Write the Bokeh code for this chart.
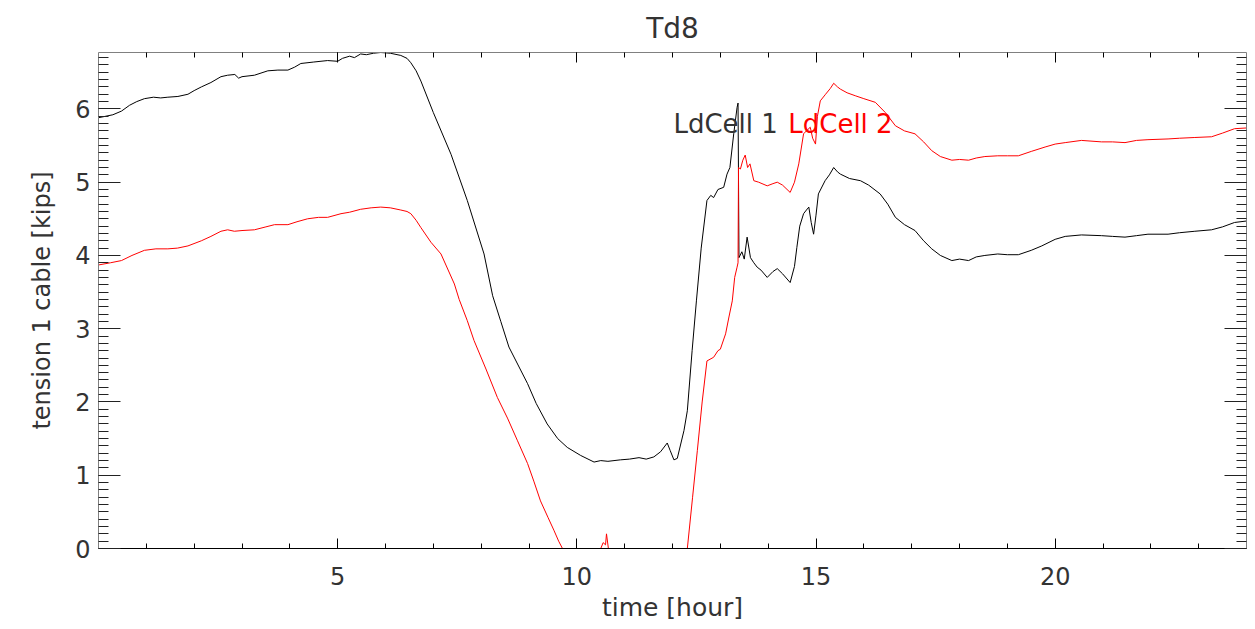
from bokeh.plotting import figure
from bokeh.models import LinearAxis, FixedTicker, Range1d, Label
from bokeh.embed import file_html
from bokeh.resources import INLINE

# ---------------- data ----------------
time_cell1 = [0.00, 0.15, 0.30, 0.48, 0.65, 0.80, 0.96, 1.15, 1.30, 1.45, 1.66, 1.87, 2.00, 2.15, 2.35,
              2.56, 2.70, 2.85, 2.93, 3.00, 3.26, 3.54, 3.75, 3.96, 4.10, 4.23, 4.50, 4.79, 5.00, 5.10,
              5.25, 5.35, 5.48, 5.60, 5.75, 5.90, 6.10, 6.32, 6.45, 6.53, 6.64, 6.74, 7.00, 7.37, 7.71,
              8.06, 8.24, 8.41, 8.58, 8.97, 9.15, 9.38, 9.60, 9.80, 10.08, 10.36, 10.50, 10.65, 10.91,
              11.10, 11.30, 11.45, 11.61, 11.75, 11.89, 11.95, 12.03, 12.10, 12.24, 12.31, 12.41, 12.50,
              12.60, 12.72, 12.80, 12.86, 12.95, 13.07, 13.14, 13.20, 13.28, 13.35, 13.37, 13.39, 13.45,
              13.50, 13.56, 13.63, 13.70, 13.77, 13.85, 13.98, 14.10, 14.19, 14.30, 14.46, 14.55, 14.60,
              14.66, 14.74, 14.80, 14.85, 14.90, 14.95, 15.00, 15.05, 15.19, 15.28, 15.37, 15.45, 15.51,
              15.70, 15.93, 16.10, 16.34, 16.50, 16.66, 16.85, 17.07, 17.25, 17.42, 17.60, 17.84, 18.00,
              18.19, 18.35, 18.53, 18.80, 19.00, 19.23, 19.50, 19.72, 20.00, 20.21, 20.55, 20.97, 21.20,
              21.46, 21.70, 21.94, 22.36, 22.60, 22.92, 23.27, 23.50, 23.75, 24.00]
tension_cell1 = [5.88, 5.90, 5.92, 5.97, 6.05, 6.10, 6.14, 6.16, 6.15, 6.16, 6.17, 6.20, 6.25, 6.30, 6.36,
                 6.44, 6.46, 6.47, 6.42, 6.44, 6.46, 6.52, 6.53, 6.53, 6.57, 6.62, 6.64, 6.66, 6.65, 6.69,
                 6.72, 6.70, 6.75, 6.74, 6.76, 6.77, 6.76, 6.73, 6.69, 6.63, 6.52, 6.38, 5.95, 5.38, 4.75,
                 4.02, 3.45, 3.10, 2.75, 2.25, 1.98, 1.70, 1.50, 1.38, 1.27, 1.18, 1.20, 1.19, 1.21,
                 1.22, 1.24, 1.22, 1.25, 1.32, 1.44, 1.34, 1.21, 1.23, 1.61, 1.88, 2.70, 3.38,
                 4.10, 4.75, 4.82, 4.79, 4.90, 4.93, 5.11, 5.20, 5.66, 6.02, 6.08, 3.97, 4.05,
                 3.95, 4.25, 3.97, 3.90, 3.84, 3.80, 3.70, 3.78, 3.82, 3.75, 3.63, 3.85, 4.11,
                 4.40, 4.57, 4.62, 4.66, 4.45, 4.29, 4.55, 4.84, 5.02, 5.10, 5.20, 5.14, 5.11,
                 5.05, 5.02, 4.96, 4.84, 4.70, 4.52, 4.42, 4.34, 4.20, 4.09, 4.00, 3.93, 3.95,
                 3.93, 3.98, 4.00, 4.02, 4.01, 4.01, 4.07, 4.13, 4.22, 4.26, 4.28, 4.27, 4.26,
                 4.25, 4.27, 4.29, 4.29, 4.31, 4.33, 4.35, 4.39, 4.45, 4.47]

time_cell2 = [0.00, 0.25, 0.48, 0.70, 0.96, 1.20, 1.45, 1.65, 1.87, 2.15, 2.35, 2.56, 2.70, 2.84, 3.00,
              3.26, 3.50, 3.68, 3.96, 4.15, 4.37, 4.60, 4.79, 5.07, 5.25, 5.48, 5.70, 5.90, 6.10, 6.32,
              6.45, 6.53, 6.64, 6.74, 6.95, 7.16, 7.44, 7.54, 7.71, 7.85, 8.10, 8.34, 8.55, 8.76, 8.97,
              9.10, 9.24, 9.40, 9.52, 9.62, 9.70, 10.50, 10.55, 10.60, 10.62, 10.66, 12.31, 12.42, 12.52,
              12.62, 12.72, 12.86, 12.95, 13.00, 13.11, 13.18, 13.25, 13.30, 13.35, 13.37, 13.38, 13.42,
              13.47, 13.52, 13.57, 13.62, 13.70, 13.80, 13.98, 14.10, 14.19, 14.30, 14.46, 14.55, 14.64,
              14.74, 14.80, 14.88, 14.93, 14.99, 15.03, 15.09, 15.20, 15.30, 15.37, 15.45, 15.51, 15.65,
              15.82, 16.00, 16.24, 16.45, 16.66, 16.85, 17.07, 17.25, 17.42, 17.60, 17.84, 18.00, 18.19,
              18.35, 18.53, 18.80, 19.00, 19.23, 19.50, 19.79, 20.00, 20.21, 20.55, 20.97, 21.20, 21.46,
              21.70, 21.94, 22.36, 22.60, 22.92, 23.27, 23.50, 23.75, 24.00]
tension_cell2 = [3.87, 3.90, 3.93, 4.00, 4.07, 4.09, 4.09, 4.10, 4.13, 4.20, 4.26, 4.33, 4.35, 4.33, 4.34,
                 4.35, 4.39, 4.42, 4.42, 4.46, 4.50, 4.52, 4.52, 4.57, 4.59, 4.63, 4.65, 4.66, 4.65, 4.62,
                 4.60, 4.57, 4.48, 4.38, 4.18, 4.02, 3.61, 3.40, 3.11, 2.84, 2.45, 2.06, 1.78, 1.47, 1.16,
                 0.92, 0.65, 0.42, 0.25, 0.10, 0.00, 0.00, 0.08, 0.05, 0.20, 0.00, 0.00, 0.70, 1.34,
                 2.00, 2.56, 2.61, 2.70, 2.72, 2.93, 3.16, 3.38, 3.70, 3.84, 3.90, 5.20, 5.18,
                 5.30, 5.37, 5.20, 5.25, 5.02, 5.00, 4.95, 4.98, 5.00, 4.96, 4.86, 5.00, 5.25,
                 5.66, 5.70, 5.75, 5.60, 5.52, 5.90, 6.11, 6.20, 6.28, 6.35, 6.30, 6.27, 6.22,
                 6.18, 6.14, 6.09, 5.95, 5.77, 5.70, 5.66, 5.55, 5.43, 5.35, 5.30, 5.31, 5.30,
                 5.33, 5.35, 5.36, 5.36, 5.36, 5.42, 5.48, 5.52, 5.54, 5.57, 5.55, 5.55, 5.54,
                 5.57, 5.58, 5.59, 5.60, 5.61, 5.62, 5.67, 5.73, 5.74]

x_major_ticks = [5, 10, 15, 20]
x_minor_ticks = list(range(1, 24))
y_major_ticks = [0, 1, 2, 3, 4, 5, 6]
y_minor_ticks = [i / 10 for i in range(0, 68)]

series_names = ["LdCell 1", "LdCell 2"]
legend_x = [12.02, 14.42]
legend_y = 5.80

title_text = "Td8"
x_label = "time [hour]"
y_label = "tension 1 cable [kips]"

# ---------------- figure ----------------
FONT = "DejaVu Sans"
TEXT_COLOR = "#333333"

p = figure(width=1254, height=627, output_backend="svg", toolbar_location=None,
           x_range=Range1d(0, 24), y_range=Range1d(0, 6.77),
           min_border_left=98, min_border_right=8, min_border_top=52, min_border_bottom=79,
           title=title_text, x_axis_label=x_label, y_axis_label=y_label)
p.background_fill_color = "white"
p.border_fill_color = "white"
p.outline_line_color = None
p.xgrid.visible = False
p.ygrid.visible = False

p.title.align = "center"
p.title.text_font = FONT
p.title.text_font_size = "28px"
p.title.text_font_style = "normal"
p.title.text_color = TEXT_COLOR
p.title.standoff = 16

xt = FixedTicker(ticks=x_major_ticks, minor_ticks=x_minor_ticks)
yt = FixedTicker(ticks=y_major_ticks, minor_ticks=y_minor_ticks)


def style_x(ax, line_color):
    ax.ticker = xt
    ax.axis_line_color = line_color
    ax.major_tick_line_color = "black"
    ax.minor_tick_line_color = "black"
    ax.major_tick_in = 10
    ax.major_tick_out = 0
    ax.minor_tick_in = 5
    ax.minor_tick_out = 0


def style_y(ax, line_color):
    ax.ticker = yt
    ax.axis_line_color = line_color
    ax.major_tick_line_color = "#222222"
    ax.minor_tick_line_color = "#222222"
    ax.major_tick_in = 22
    ax.major_tick_out = 0
    ax.minor_tick_in = 10
    ax.minor_tick_out = 0


bx = p.xaxis[0]
style_x(bx, "black")
bx.major_label_text_font = FONT
bx.major_label_text_font_size = "24px"
bx.major_label_text_color = TEXT_COLOR
bx.major_label_standoff = 18
bx.axis_label_text_font = FONT
bx.axis_label_text_font_size = "25px"
bx.axis_label_text_font_style = "normal"
bx.axis_label_text_color = TEXT_COLOR
bx.axis_label_standoff = 5

ly = p.yaxis[0]
style_y(ly, "#808080")
ly.major_label_text_font = FONT
ly.major_label_text_font_size = "24px"
ly.major_label_text_color = TEXT_COLOR
ly.major_label_standoff = 8
ly.major_label_orientation = "horizontal"
ly.axis_label_text_font = FONT
ly.axis_label_text_font_size = "24px"
ly.axis_label_text_font_style = "normal"
ly.axis_label_text_color = TEXT_COLOR
ly.axis_label_standoff = 16

top_ax = LinearAxis(major_label_text_font_size="1px", major_label_text_color=None,
                    major_label_standoff=0)
style_x(top_ax, "#808080")
p.add_layout(top_ax, "above")

right_ax = LinearAxis(major_label_text_font_size="1px", major_label_text_color=None,
                      major_label_standoff=0)
style_y(right_ax, "#808080")
p.add_layout(right_ax, "right")

p.line(time_cell1, tension_cell1, line_color="black", line_width=1)
p.line(time_cell2, tension_cell2, line_color="#ff0000", line_width=1)

for name, lx, col in zip(series_names, legend_x, [TEXT_COLOR, "#ff0000"]):
    p.add_layout(Label(x=lx, y=legend_y, text=name, text_font=FONT, text_font_size="26px",
                       text_color=col, text_baseline="alphabetic"))

open("out.html", "w").write(file_html(p, INLINE))
